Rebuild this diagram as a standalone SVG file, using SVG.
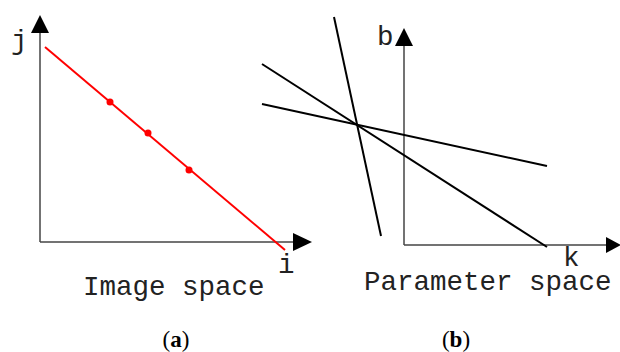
<svg xmlns="http://www.w3.org/2000/svg" width="620" height="352" viewBox="0 0 620 352">
<style>
.axis{stroke:#444;stroke-width:1.5;fill:none}
.ln{stroke:#000;stroke-width:2;fill:none}
.red{stroke:#f00;stroke-width:2;fill:none}
.head{fill:#000}
.lbl{font-family:"Liberation Mono",monospace;font-size:27.5px;fill:#222}
.cap{font-family:"Liberation Serif",serif;font-size:23px;fill:#000;text-anchor:middle}
</style>
<rect width="620" height="352" fill="#fff"/>
<g id="panel-a">
  <g id="axes-a">
    <line class="axis" x1="40" y1="242" x2="40" y2="30"/>
    <line class="axis" x1="40" y1="242" x2="296" y2="242"/>
    <polygon class="head" points="40,15 31,33 49,33"/>
    <polygon class="head" points="312,242 293,233 293,251"/>
  </g>
  <g id="red-line">
    <line class="red" x1="45" y1="47" x2="285" y2="250"/>
    <circle cx="110" cy="102" r="3.5" fill="#f00"/>
    <circle cx="148" cy="133" r="3.5" fill="#f00"/>
    <circle cx="189" cy="170" r="3.5" fill="#f00"/>
  </g>
  <text class="lbl" x="11" y="49">j</text>
  <text class="lbl" x="278" y="273">i</text>
  <text class="lbl" x="83" y="295">Image space</text>
  <text class="cap" x="176" y="347">(<tspan font-weight="bold">a</tspan>)</text>
</g>
<g id="panel-b">
  <g id="axes-b">
    <line class="axis" x1="404" y1="245" x2="404" y2="44"/>
    <line class="axis" x1="404" y1="245" x2="608" y2="245"/>
    <polygon class="head" points="404,28 395,46 413,46"/>
    <polygon class="head" points="621,245 606,237 606,253"/>
  </g>
  <g id="connectors">
    <line class="ln" x1="334" y1="17" x2="381" y2="236"/>
    <line class="ln" x1="262" y1="64" x2="547" y2="247"/>
    <line class="ln" x1="262" y1="104" x2="547" y2="166"/>
  </g>
  <text class="lbl" x="377" y="45">b</text>
  <text class="lbl" x="563" y="266" font-size="25px">k</text>
  <text class="lbl" x="364" y="290">Parameter space</text>
  <text class="cap" x="456" y="347">(<tspan font-weight="bold">b</tspan>)</text>
</g>
</svg>
